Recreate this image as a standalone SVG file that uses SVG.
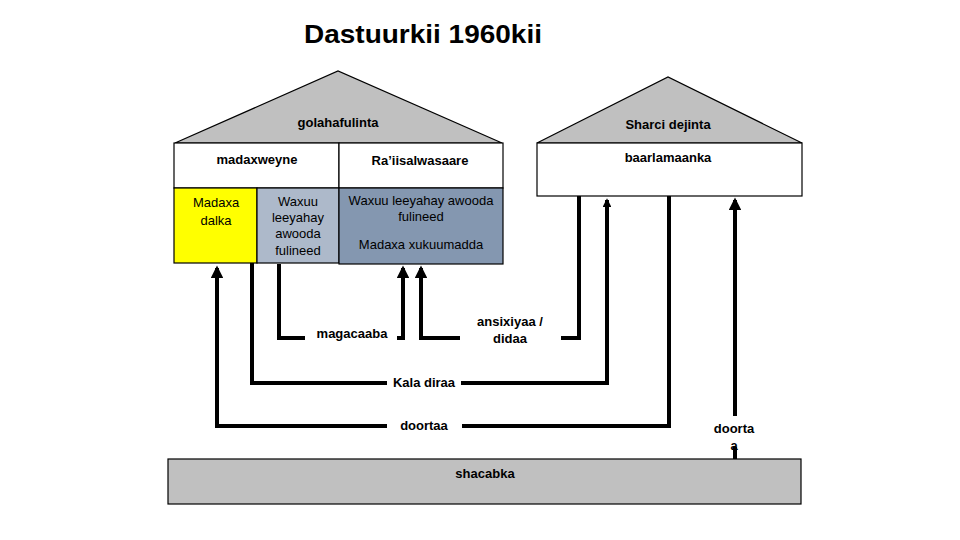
<svg xmlns="http://www.w3.org/2000/svg" width="960" height="540" viewBox="0 0 960 540">
<style>
text{font-family:"Liberation Sans",Arial,sans-serif;fill:#000;text-anchor:middle}
.h{font-size:13px;font-weight:bold}
.n{font-size:13px}
.box{stroke:#000;stroke-width:1.2}
.ln{fill:none;stroke:#000;stroke-width:4}
</style>
<defs>
<marker id="ah" markerWidth="3.2" markerHeight="3.2" refX="8" refY="5" orient="auto" markerUnits="strokeWidth" viewBox="0 0 10 10">
<path d="M0,0 L10,5 L0,10 Z" fill="#000"/>
</marker>
<marker id="ahs" markerWidth="2.2" markerHeight="2.2" refX="8" refY="5" orient="auto" markerUnits="strokeWidth" viewBox="0 0 10 10">
<path d="M0,0 L10,5 L0,10 Z" fill="#000"/>
</marker>
</defs>
<rect width="960" height="540" fill="#fff"/>
<text x="423" y="43" style="font-size:25px;font-weight:bold" textLength="238" lengthAdjust="spacingAndGlyphs">Dastuurkii 1960kii</text>

<g id="executive">
<polygon points="175,143 338,71 502,143" fill="#c0c0c0" class="box"/>
<text x="338" y="127" class="h">golahafulinta</text>
<rect x="174" y="143" width="165" height="45" fill="#fff" class="box"/>
<text x="257" y="164" class="h">madaxweyne</text>
<rect x="339" y="143" width="164" height="45" fill="#fff" class="box"/>
<text x="420" y="165" class="h">Ra’iisalwasaare</text>
</g>
<g id="madaxa-dalka">
<rect x="174" y="188" width="83" height="75" fill="#ffff00" class="box"/>
<text x="216" y="207" class="n">Madaxa</text>
<text x="216" y="225" class="n">dalka</text>
</g>
<g id="waxuu-madaxweyne">
<rect x="257" y="188" width="82" height="75" fill="#adb9ca" class="box"/>
<text x="298" y="206" class="n">Waxuu</text>
<text x="298" y="222" class="n">leeyahay</text>
<text x="298" y="238" class="n">awooda</text>
<text x="298" y="255" class="n">fulineed</text>
</g>
<g id="waxuu-raiisalwasaare">
<rect x="339" y="188" width="164" height="76" fill="#8497b0" class="box"/>
<text x="421" y="205" class="n">Waxuu leeyahay awooda</text>
<text x="421" y="221" class="n">fulineed</text>
<text x="421" y="249" class="n">Madaxa xukuumadda</text>
</g>
<g id="legislature">
<polygon points="537,143 668,77 802,143" fill="#c0c0c0" class="box"/>
<text x="668" y="129" class="h">Sharci dejinta</text>
<rect x="537" y="143" width="265" height="53" fill="#fff" class="box"/>
<text x="668" y="162" class="h">baarlamaanka</text>
</g>
<g id="shacabka">
<rect x="168" y="459" width="633" height="45" fill="#c0c0c0" class="box"/>
<text x="485" y="478" class="h">shacabka</text>
</g>

<g id="connectors">
<polyline class="ln" points="387,426 217,426 217,268" marker-end="url(#ah)"/>
<polyline class="ln" points="462,426 669,426 669,196"/>
<polyline class="ln" points="387,383 252,383 252,263"/>
<polyline class="ln" points="461,383 607,383 607,200" marker-end="url(#ahs)"/>
<polyline class="ln" points="279,264 279,338 305,338"/>
<polyline class="ln" points="397,338 403,338 403,268" marker-end="url(#ah)"/>
<polyline class="ln" points="460,338 421,338 421,268" marker-end="url(#ah)"/>
<polyline class="ln" points="561,338 579,338 579,196"/>
<line class="ln" x1="735" y1="416" x2="735" y2="200" marker-end="url(#ah)"/>
</g>
<g id="labels">
<text x="352" y="338" class="h">magacaaba</text>
<text x="510" y="326" class="h">ansixiyaa /</text>
<text x="510" y="343" class="h">didaa</text>
<text x="424" y="387" class="h">Kala diraa</text>
<text x="424" y="430" class="h">doortaa</text>
<text x="734" y="433" class="h">doorta</text>
<text x="734" y="450" class="h">a</text>
<line class="ln" x1="735" y1="447" x2="735" y2="459"/>
</g>
</svg>
